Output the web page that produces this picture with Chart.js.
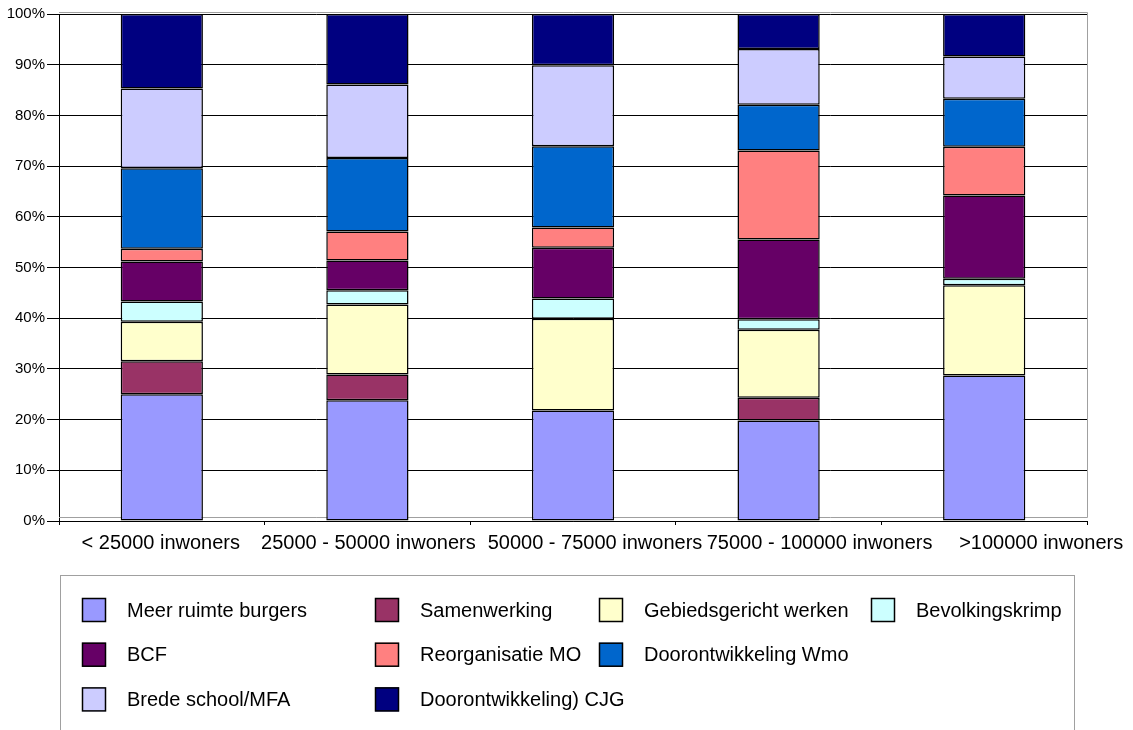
<!DOCTYPE html>
<html>
<head>
<meta charset="utf-8">
<script src="https://cdn.jsdelivr.net/npm/chart.js@4"></script>
<style>
  html, body { margin: 0; padding: 0; background: #fff; }
  #wrap { width: 1133px; height: 730px; position: relative; }
</style>
</head>
<body>
<div id="wrap"><canvas id="myChart"></canvas></div>
<script>
'use strict';

let categories = ['< 25000 inwoners', '25000 - 50000 inwoners', '50000 - 75000 inwoners', '75000 - 100000 inwoners', '>100000 inwoners'];
let yTicks = [0, 10, 20, 30, 40, 50, 60, 70, 80, 90, 100];

let meerRuimte = [25.0, 23.8, 21.8, 19.8, 28.7];
let samenwerking = [6.5, 5.1, 0, 4.5, 0];
let gebiedsgericht = [7.8, 13.8, 18.1, 13.4, 17.8];
let bevolkingskrimp = [4.0, 2.8, 4.0, 2.1, 1.3];
let bcf = [7.9, 5.9, 10.0, 15.7, 16.4];
let reorganisatie = [2.5, 5.7, 4.0, 17.6, 9.6];
let wmo = [15.9, 14.5, 16.0, 9.0, 9.5];
let bredeSchool = [15.7, 14.5, 16.0, 11.0, 8.3];
let cjg = [14.7, 13.9, 10.1, 6.9, 8.4];

let seriesNames = ['Meer ruimte burgers', 'Samenwerking', 'Gebiedsgericht werken', 'Bevolkingskrimp', 'BCF', 'Reorganisatie MO', 'Doorontwikkeling Wmo', 'Brede school/MFA', 'Doorontwikkeling) CJG'];
let seriesValues = [meerRuimte, samenwerking, gebiedsgericht, bevolkingskrimp, bcf, reorganisatie, wmo, bredeSchool, cjg];
let seriesColors = ['#9999FF', '#993366', '#FFFFCC', '#CCFFFF', '#660066', '#FF8080', '#0066CC', '#CCCCFF', '#000080'];

const FONT = '"Liberation Sans", Arial, sans-serif';

// legend slots [x of box, row]; excel fills them in this odd order
let legendSlots = [[82, 0], [375, 0], [599, 0], [871, 0], [82, 1], [375, 1], [599, 1], [82, 2], [375, 2]];
// excel nudges the long category labels to the right so they don't collide
let labelShift = [-1, 1, 22, 41, 57];

let datasets = [];
for (let i = 0; i < seriesNames.length; i++) {
  datasets.push({
    label: seriesNames[i],
    data: seriesValues[i],
    backgroundColor: seriesColors[i],
    borderColor: '#000000',
    borderWidth: 1.5,
    borderSkipped: false,
    barPercentage: 0.4,
    categoryPercentage: 1.0
  });
}

const plotFrame = {
  id: 'plotFrame',
  beforeDatasetsDraw(chart) {
    let a = chart.chartArea;
    let ctx = chart.ctx;
    ctx.save();
    ctx.strokeStyle = '#a0a0a0';
    ctx.lineWidth = 1;
    ctx.beginPath();
    ctx.moveTo(a.left, a.top - 1.5);
    ctx.lineTo(a.right + 0.5, a.top - 1.5);
    ctx.lineTo(a.right + 0.5, a.bottom - 3.5);
    ctx.lineTo(a.left, a.bottom - 3.5);
    ctx.stroke();
    ctx.restore();
  }
};

const categoryLabels = {
  id: 'categoryLabels',
  afterDraw(chart) {
    let ctx = chart.ctx;
    let xScale = chart.scales.x;
    ctx.save();
    ctx.font = '20px ' + FONT;
    ctx.fillStyle = '#000';
    ctx.textAlign = 'center';
    ctx.textBaseline = 'alphabetic';
    chart.data.labels.forEach(function (label, i) {
      ctx.fillText(label, xScale.getPixelForValue(i) + labelShift[i], chart.chartArea.bottom + 28);
    });
    ctx.restore();
  }
};

const boxLegend = {
  id: 'boxLegend',
  afterDraw(chart) {
    let ctx = chart.ctx;
    ctx.save();
    ctx.strokeStyle = '#a0a0a0';
    ctx.lineWidth = 1;
    ctx.strokeRect(60.5, 575.5, 1014, 170);
    ctx.font = '20px ' + FONT;
    ctx.textBaseline = 'middle';
    chart.data.datasets.forEach(function (ds, i) {
      let x = legendSlots[i][0];
      let cy = 610 + legendSlots[i][1] * 44.7;
      ctx.fillStyle = ds.backgroundColor;
      ctx.fillRect(x, cy - 12, 24, 24);
      ctx.strokeStyle = '#000';
      ctx.lineWidth = 1.5;
      ctx.strokeRect(x + 0.5, cy - 11.5, 23, 23);
      ctx.fillStyle = '#000';
      ctx.fillText(ds.label, x + 45, cy + 1);
    });
    ctx.restore();
  }
};

const config = {
  type: 'bar',
  data: {
    labels: categories,
    datasets: datasets
  },
  options: {
    responsive: true,
    maintainAspectRatio: false,
    animation: false,
    layout: {
      padding: { left: 0, top: 14, right: 46, bottom: 0 }
    },
    plugins: {
      legend: { display: false },
      tooltip: { enabled: false }
    },
    scales: {
      x: {
        stacked: true,
        afterFit(scale) { scale.height = 209; },
        grid: {
          drawOnChartArea: false,
          drawTicks: true,
          tickLength: 4,
          color: '#000',
          offset: true
        },
        border: { color: '#000', width: 1 },
        ticks: {
          // labels are painted by categoryLabels
          color: 'rgba(0,0,0,0)',
          font: { family: FONT, size: 20 },
          padding: 6,
          maxRotation: 0,
          autoSkip: false
        }
      },
      y: {
        stacked: true,
        min: 0,
        max: 100,
        afterFit(scale) { scale.width = 59; },
        afterBuildTicks(scale) {
          scale.ticks = yTicks.map(function (v) { return { value: v }; });
        },
        grid: {
          color: '#000',
          lineWidth: 1,
          tickLength: 12
        },
        border: { color: '#000', width: 1 },
        ticks: {
          color: '#000',
          font: { family: FONT, size: 15 },
          padding: 2,
          callback: function (v) { return v + '%'; }
        }
      }
    }
  },
  plugins: [plotFrame, categoryLabels, boxLegend]
};

const myChart = new Chart(document.getElementById('myChart'), config);
</script>
</body>
</html>
